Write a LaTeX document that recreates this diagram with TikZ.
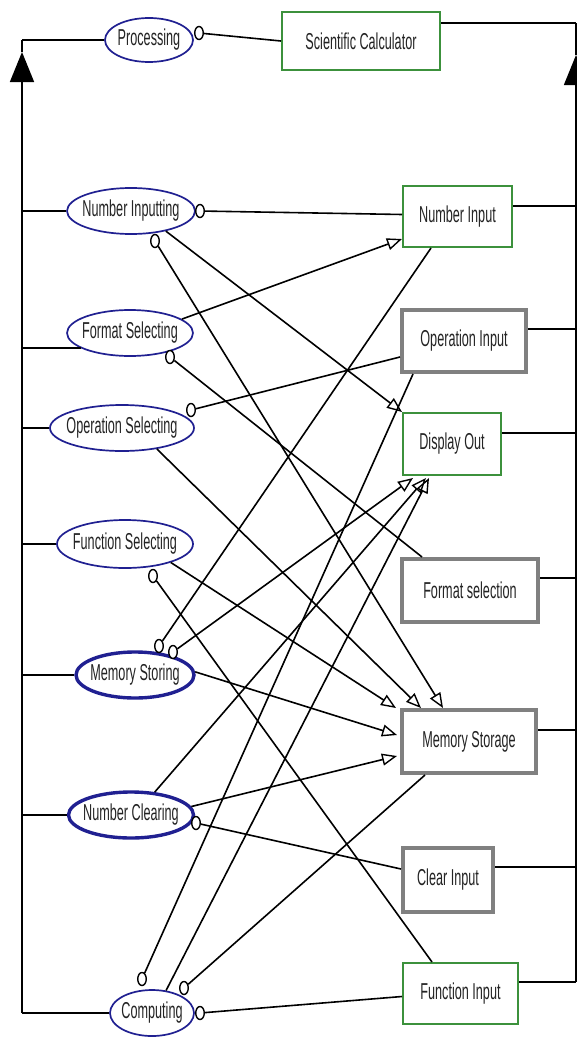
\documentclass[tikz,border=0pt]{standalone}
\usepackage{fontspec}
\setmainfont{Liberation Sans}[FakeStretch=0.55]
\usetikzlibrary{shapes.geometric,arrows.meta,calc}
\definecolor{ucblue}{RGB}{32,32,145}
\definecolor{boxgreen}{RGB}{60,145,60}
\definecolor{boxgray}{RGB}{128,128,128}
\definecolor{txtgray}{RGB}{35,35,35}
% use-case labels overlap freely so the ellipse keeps its given size
\newcommand\uctext[1]{\makebox[0pt]{#1}}

\begin{document}
\begin{tikzpicture}[x=1pt,y=-1pt,
  font=\fontsize{23}{27}\selectfont, text=txtgray,
  usecase/.style={ellipse, draw=ucblue, line width=1.7pt, inner sep=0pt, fill=white},
  usecasebold/.style={usecase, line width=3.4pt},
  greenbox/.style={rectangle, draw=boxgreen, line width=2pt, inner sep=0pt, fill=white},
  graybox/.style={rectangle, draw=boxgray, line width=4pt, inner sep=0pt, fill=white},
  conn/.style={draw=black, line width=1.6pt},
  arr/.style={conn, -{Triangle[open, length=15pt, width=12pt, line width=1.4pt]}},
  ball/.style={ellipse, draw=black, line width=1.4pt, fill=white,
               minimum width=8.5pt, minimum height=13pt, inner sep=0pt},
  busarrow/.style={conn, -{Triangle[length=30pt, width=24pt]}}
]
\fill[white] (0,0) rectangle (577,1041);
\useasboundingbox (0,0) rectangle (577,1041);

% use cases
\node[usecase, minimum width=88pt, minimum height=44pt] (proc) at (149,40) {\uctext{Processing}};
\node[usecase, minimum width=128pt, minimum height=46pt] (nin) at (131,211) {\uctext{Number Inputting}};
\node[usecase, minimum width=126pt, minimum height=46pt] (fsel) at (130,333) {\uctext{Format Selecting}};
\node[usecase, minimum width=144pt, minimum height=46pt] (osel) at (122,428) {\uctext{Operation Selecting}};
\node[usecase, minimum width=136pt, minimum height=48pt] (fnsel) at (125,544) {\uctext{Function Selecting}};
\node[usecasebold, minimum width=118pt, minimum height=46pt] (mst) at (135,675) {\uctext{Memory Storing}};
\node[usecasebold, minimum width=125pt, minimum height=46pt] (nclr) at (131,815) {\uctext{Number Clearing}};
\node[usecase, minimum width=84pt, minimum height=46pt] (comp) at (152,1013) {\uctext{Computing}};

% components
\node[greenbox, minimum width=158pt, minimum height=58pt] (scical) at (361,41) {Scientific Calculator};
\node[greenbox, minimum width=109pt, minimum height=61pt] (numin) at (457.5,216.5) {Number Input};
\node[graybox, minimum width=124pt, minimum height=62pt] (opin) at (464,341) {Operation Input};
\node[greenbox, minimum width=98pt, minimum height=62pt] (dispout) at (452,444) {Display Out};
\node[graybox, minimum width=136pt, minimum height=63pt] (fmtsel) at (470,590.5) {Format selection};
\node[graybox, minimum width=134pt, minimum height=63pt] (memst) at (469,741.5) {Memory Storage};
\node[graybox, minimum width=90pt, minimum height=64pt] (clrin) at (448,880) {Clear Input};
\node[greenbox, minimum width=115pt, minimum height=61pt] (fnin) at (460.5,993.5) {Function Input};

% interface balls on the use cases
\node[ball] (bproc) at (199,33) {};
\node[ball] (bnin) at (200,211) {};
\node[ball] (bnin2) at (155,241) {};
\node[ball] (bfsel) at (170,357) {};
\node[ball] (bosel) at (191,410) {};
\node[ball] (bfnsel) at (153,576) {};
\node[ball] (bmst1) at (159,646) {};
\node[ball] (bmst2) at (173,652) {};
\node[ball] (bnclr) at (196,823) {};
\node[ball] (bcomp1) at (142,979) {};
\node[ball] (bcomp3) at (184,988) {};
\node[ball] (bcomp4) at (200,1013) {};

% left bus
\coordinate (lbus) at (22,0);
\coordinate (larrow) at (22,52);
\draw[busarrow] (lbus |- comp.west) -- (larrow);
\draw[conn] (larrow) -- (lbus |- proc.west);
\foreach \u in {proc,nin,osel,fnsel,mst,nclr,comp}
  \draw[conn] (lbus |- \u.west) -- (\u.west);
\draw[conn] (lbus |- fsel.197) -- (fsel.197);

% right bus
\coordinate (rbus) at (576,0);
\foreach \b/\dy in {scical/12, numin/21, opin/21, dispout/21, fmtsel/21, memst/22, clrin/21, fnin/20} {
  \coordinate (\b-r) at ($(\b.north east)+(0,\dy)$);
  \draw[conn] (\b-r) -- (\b-r -| rbus);
}
\coordinate (rarrow) at (576,55);
\draw[busarrow] (fnin-r -| rbus) -- (rarrow);
\draw[conn] (rarrow) -- (scical-r -| rbus);

% dependencies
\draw[conn] (bproc) -- (scical.west);
\draw[conn] (bnin) -- ([yshift=2pt]numin.west);
\draw[arr] (bnin2) -- ($(memst.north west)+(43,0)$);
\draw[arr] (nin.-30) -- (dispout.north west);
\draw[arr] (fsel.15) -- ($(numin.south west)+(0,-9)$);
\draw[conn] (bfsel) -- ($(fmtsel.north west)+(22,0)$);
\draw[conn] (bosel) -- ($(opin.west)+(0,16)$);
\draw[arr] (osel.-31) -- ($(memst.north west)+(21,0)$);
\draw[arr] (fnsel.-22) -- ($(memst.north west)+(-4,0)$);
\draw[conn] (bfnsel) -- ($(fnin.north west)+(30,0)$);
\draw[conn] (bmst1) -- ($(numin.south west)+(29,0)$);
\draw[arr] (bmst2) -- ($(dispout.south west)+(11,2)$);
\draw[arr] (mst.3) -- ($(memst.north west)+(-3,27)$);
\draw[arr] (nclr.44) -- ($(dispout.south west)+(24,2)$);
\draw[arr] (nclr.8) -- ($(memst.north west)+(-3,48)$);
\draw[conn] (bnclr) -- ($(clrin.west)+(0,-11)$);
\draw[conn] (bcomp1) -- ($(opin.south west)+(13,0)$);
\draw[arr] (comp.58) -- ($(dispout.south west)+(27,2)$);
\draw[conn] (bcomp3) -- ($(memst.south west)+(25,0)$);
\draw[conn] (bcomp4) -- ($(fnin.west)+(0,3)$);
\end{tikzpicture}
\end{document}
